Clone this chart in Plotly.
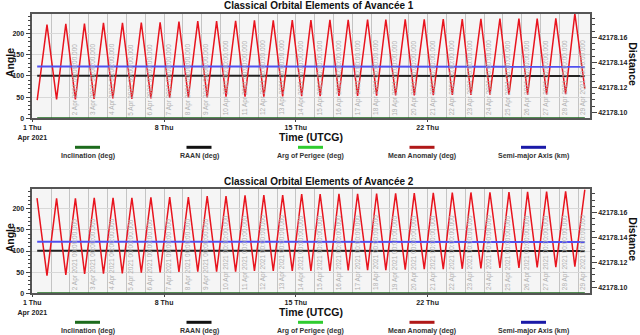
import pandas as pd
import plotly.graph_objects as go

# days since 1 Apr 2021 00:00 UTCG, and the values
start = pd.Timestamp("2021-04-01 00:00")
x_end = pd.Timestamp("2021-04-30 15:00")

# satellite 1, mean anomaly (deg) at the corners of the zig-zag
ma1_days = [0.26, 0.78, 1.29, 1.78, 2.29, 2.77, 3.28, 3.78, 4.28, 4.79, 5.29, 5.79,
            6.30, 6.79, 7.30, 7.79, 8.29, 8.79, 9.29, 9.79, 10.29, 10.80, 11.30, 11.80,
            12.30, 12.80, 13.30, 13.81, 14.31, 14.80, 15.29, 15.81, 16.29, 16.78, 17.28,
            17.81, 18.29, 18.78, 19.30, 19.81, 20.29, 20.82, 21.30, 21.83, 22.31, 22.84,
            23.30, 23.83, 24.31, 24.84, 25.32, 25.85, 26.31, 26.82, 27.32, 27.81, 28.33,
            28.82, 29.35]
ma1_vals = [43, 221, 44.7, 223, 44.7, 223.5, 45.5, 225, 47, 225, 45.5, 226,
            47, 226.5, 47.8, 228, 49.4, 229, 49.4, 229, 51, 230, 51, 231,
            51, 231, 51.7, 231.5, 52.5, 231.5, 52.5, 232, 53, 232.5, 53,
            233, 53.5, 233, 54, 233.5, 54, 233.5, 54.5, 234, 55, 234,
            55, 234.5, 55.5, 235, 56, 235, 56, 235, 56.5, 235.5, 57,
            247, 70]

# satellite 2, mean anomaly (deg)
ma2_days = [0.25, 0.78, 1.29, 1.78, 2.29, 2.78, 3.29, 3.78, 4.29, 4.78, 5.29, 5.79,
            6.30, 6.79, 7.30, 7.79, 8.29, 8.79, 9.29, 9.79, 10.29, 10.80, 11.30, 11.80,
            12.30, 12.80, 13.30, 13.81, 14.31, 14.80, 15.29, 15.81, 16.29, 16.78, 17.28,
            17.81, 18.29, 18.78, 19.30, 19.81, 20.29, 20.82, 21.30, 21.83, 22.31, 22.84,
            23.30, 23.83, 24.31, 24.84, 25.32, 25.85, 26.31, 26.82, 27.32, 27.81, 28.33,
            28.82, 29.35]
ma2_vals = [225, 41.7, 224.5, 43.3, 224.5, 45.6, 226, 46.4, 226, 47.2, 226, 48.8,
            227, 49.6, 227.7, 50.4, 227.7, 51.2, 230, 51.2, 230, 51.2, 231.6, 52.7,
            232.4, 52.7, 232.4, 52.7, 234.8, 52.7, 234.5, 53, 235, 54, 235.5,
            55, 236, 55, 236.5, 56, 237, 57, 237.5, 57, 238, 58,
            238.5, 59, 239, 60, 239.5, 60, 240, 61, 240.5, 62, 241,
            63, 245]

flat_days = [0.26, 7.0, 14.0, 21.0, 29.35]
raan1 = [100.4, 100.2, 100.0, 99.9, 99.7]
raan2 = [100.8, 100.6, 100.4, 100.2, 100.0]
incl1 = [0.05, 0.05, 0.05, 0.05, 0.05]
incl2 = [0.05, 0.05, 0.05, 0.05, 0.05]
sma1 = [42178.1366, 42178.1365, 42178.1365, 42178.1364, 42178.1365]
sma2 = [42178.1365, 42178.1364, 42178.1364, 42178.1365, 42178.1364]

angle_ticks = [0, 50, 100, 150, 200]
dist_ticks = [42178.10, 42178.12, 42178.14, 42178.16]
time_ticks = ["2021-04-01", "2021-04-08", "2021-04-15", "2021-04-22"]
time_text = ["1 Thu<br>Apr 2021", "8 Thu", "15 Thu", "22 Thu"]
day_lines = list(range(2, 31))

legend_names = ["Inclination (deg)", "RAAN (deg)", "Arg of Perigee (deg)",
                "Mean Anomaly (deg)", "Semi-major Axis (km)"]
legend_colors = ["#1d6b1d", "#111111", "#2fcc2f", "#b01818", "#1a1aa8"]


def to_time(days):
    return start + pd.to_timedelta(days, unit="D")


FONT = "Liberation Sans, Arial, sans-serif"
W, H = 640, 335
x_dom = [32.3 / W, 590 / W]
panels = [
    # top, bottom of the plot area in px, satellite number, data
    (14, 118.3, 1, ma1_days, ma1_vals, raan1, incl1, sma1),
    (189.3, 293.3, 2, ma2_days, ma2_vals, raan2, incl2, sma2),
]

fig = go.Figure()
annotations = []
shapes = []


def label(x, y, text, size, angle=0, color="#111111"):
    # centred text placed in figure pixels
    annotations.append(dict(
        x=x / W, y=1 - y / H, xref="paper", yref="paper", text=text, textangle=angle,
        showarrow=False, xanchor="center", yanchor="middle",
        font=dict(family=FONT, size=size, color=color)))


for i, (top, bot, sat, md, mv, raan, incl, sma) in enumerate(panels):
    n = i + 1
    xa = "x" if n == 1 else "x2"
    ya = "y" if n == 1 else "y2"
    yr = "y3" if n == 1 else "y4"

    fig.add_trace(go.Scatter(x=to_time(flat_days), y=incl, mode="lines", xaxis=xa, yaxis=ya,
                             line=dict(color="#1d6b1d", width=2), showlegend=False))
    fig.add_trace(go.Scatter(x=to_time(flat_days), y=raan, mode="lines", xaxis=xa, yaxis=ya,
                             line=dict(color="#222222", width=2), showlegend=False))
    fig.add_trace(go.Scatter(x=to_time(md), y=mv, mode="lines", xaxis=xa, yaxis=ya,
                             line=dict(color="#e8141e", width=1.5), showlegend=False))
    fig.add_trace(go.Scatter(x=to_time(flat_days), y=sma, mode="lines", xaxis=xa, yaxis=yr,
                             line=dict(color="#5050f0", width=2), showlegend=False))

    y_dom = [1 - bot / H, 1 - top / H]
    frame = dict(showline=True, linecolor="#555555", linewidth=1.5, mirror=True)
    tickfont = dict(family=FONT, size=7, color="#222222", weight="bold")

    fig.layout["xaxis" + ("" if n == 1 else "2")] = dict(
        domain=x_dom, anchor=ya, type="date", range=[start, x_end], automargin=False,
        tickvals=time_ticks, ticktext=time_text, tickfont=tickfont,
        ticks="outside", ticklen=2, tickcolor="#444444",
        showgrid=True, gridcolor="#c4c4c4", gridwidth=1, zeroline=False,
        minor=dict(dtick=86400000, tick0="2021-04-01", showgrid=True,
                   gridcolor="#c4c4c4", gridwidth=1, ticks=""),
        **frame)
    fig.layout["yaxis" + ("" if n == 1 else "2")] = dict(
        domain=y_dom, anchor=xa, range=[0, 246], tickvals=angle_ticks, tickfont=tickfont,
        ticks="outside", ticklen=5, tickcolor="#444444", automargin=False,
        minor=dict(dtick=10, ticks="outside", ticklen=3, tickcolor="#444444", showgrid=False),
        showgrid=True, gridcolor="#d8d8d8", zeroline=False, **frame)
    fig.layout["yaxis" + str(n + 2)] = dict(
        overlaying=ya, anchor=xa, side="right", range=[42178.0952, 42178.1786],
        tickvals=dist_ticks, ticktext=["%.2f" % v for v in dist_ticks], tickfont=tickfont,
        ticks="outside", ticklen=5, tickcolor="#444444", automargin=False,
        minor=dict(dtick=0.005, ticks="outside", ticklen=3, tickcolor="#444444", showgrid=False),
        showgrid=False, zeroline=False, showline=True, linecolor="#555555", linewidth=1.5)

    # rotated day stamps on each day line
    for d in day_lines:
        annotations.append(dict(
            x=to_time(d), y=0, xref=xa, yref=ya + " domain",
            text="%d Apr 2021 00:00:00.000" % d, textangle=-90, showarrow=False,
            xanchor="left", yanchor="bottom", xshift=-1, yshift=1,
            font=dict(family=FONT, size=6.5, color="#b0b0b0")))

    label(319, top - 8, "<b>Classical Orbital Elements of Avancée %d</b>" % sat, 10)
    label(10, (top + bot) / 2 - 3, "<b>Angle</b>", 10.5, angle=-90)
    label(633, (top + bot) / 2 - 2, "<b>Distance</b>", 10.5, angle=90)
    label(311, bot + 19, "<b>Time (UTCG)</b>", 10.5)

    # legend below each panel
    sw_y = bot + 29
    for k, (name, col) in enumerate(zip(legend_names, legend_colors)):
        cx = 87.5 + 111.5 * k
        shapes.append(dict(type="line", xref="paper", yref="paper",
                           x0=(cx - 12.5) / W, x1=(cx + 12.5) / W,
                           y0=1 - sw_y / H, y1=1 - sw_y / H,
                           line=dict(color=col, width=3)))
        label(cx, sw_y + 8.5, "<b>" + name + "</b>", 7, color="#333333")

fig.update_layout(
    width=W, height=H, autosize=False,
    margin=dict(l=0, r=0, t=0, b=0, autoexpand=False),
    paper_bgcolor="white", plot_bgcolor="#f5f5f5",
    showlegend=False, annotations=annotations, shapes=shapes,
    font=dict(family=FONT),
)

# the page body has a default 8px margin; drop it so the figure sits at 0,0
fig.write_html("out.html", config={"displayModeBar": False},
               post_script="document.body.style.margin='0px';")
